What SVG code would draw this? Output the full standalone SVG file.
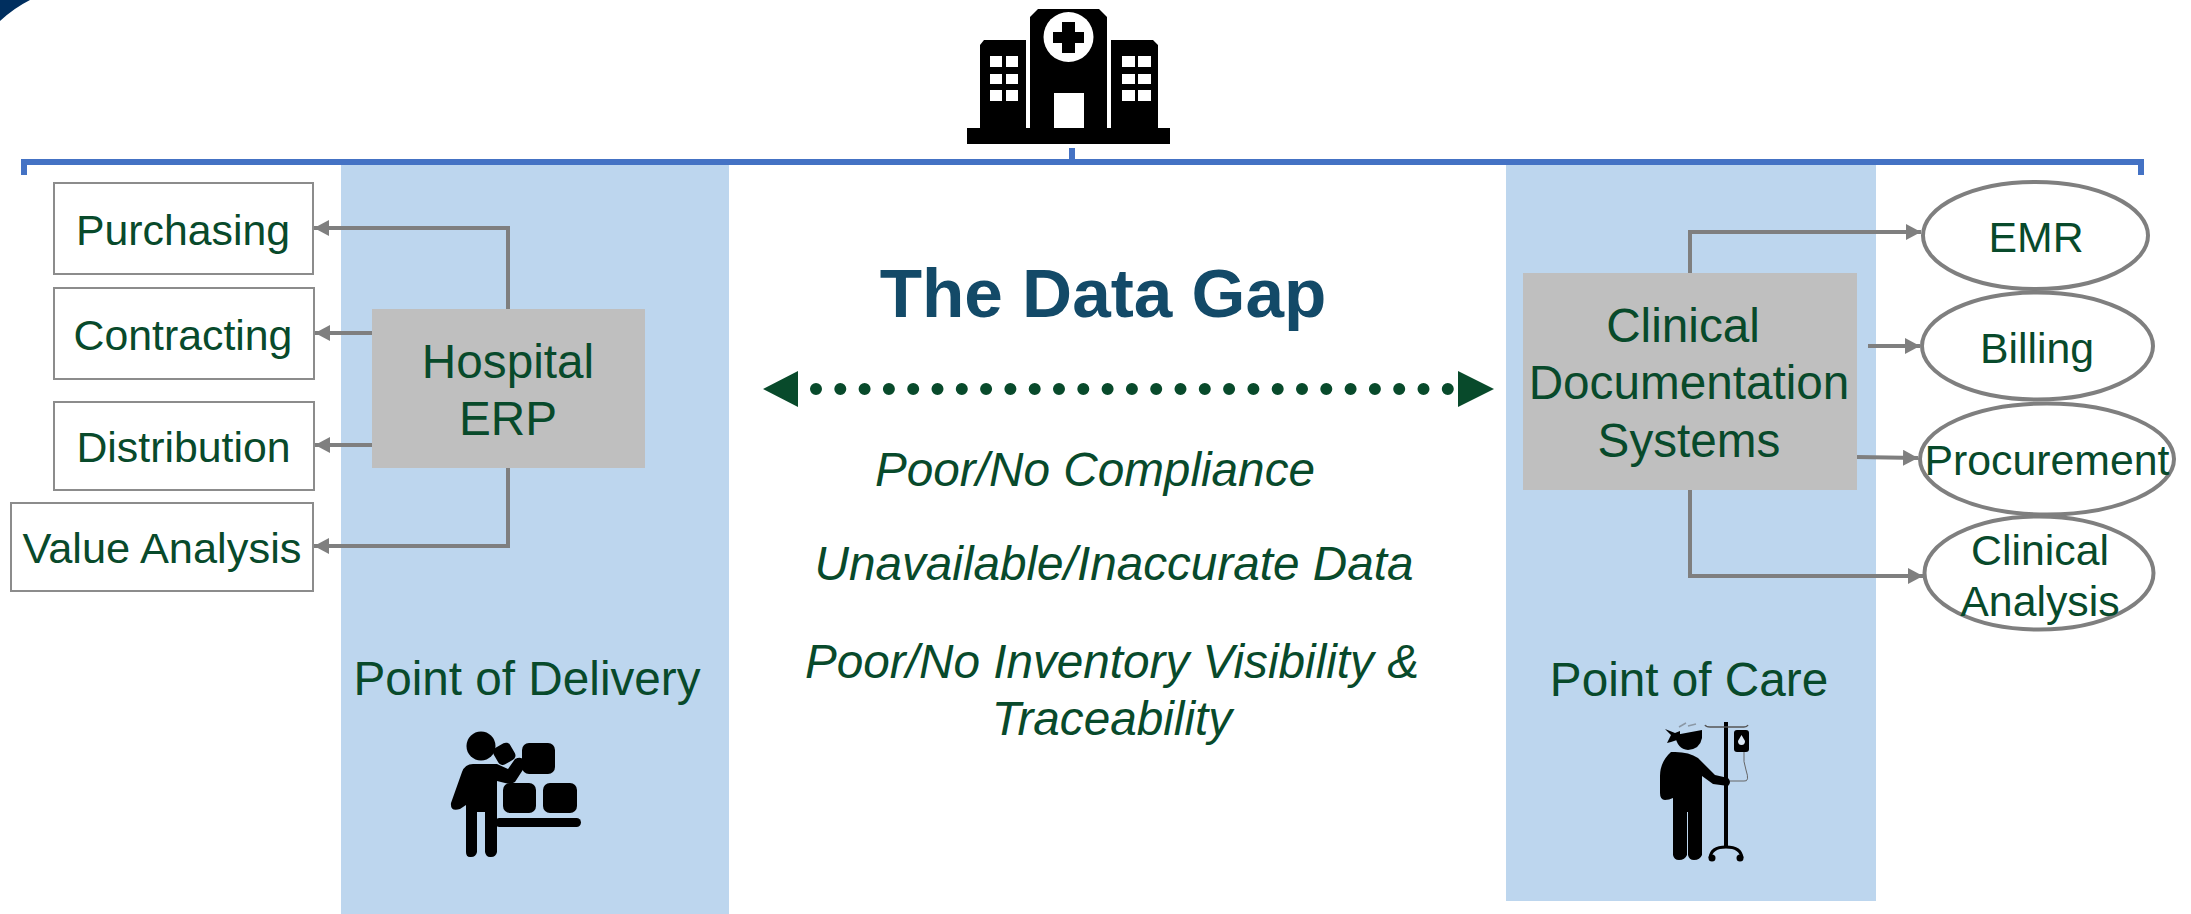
<svg xmlns="http://www.w3.org/2000/svg" width="2191" height="914" viewBox="0 0 2191 914">
<defs>
<marker id="arr" markerUnits="userSpaceOnUse" markerWidth="16" markerHeight="16" refX="15" refY="8" orient="auto"><path d="M0 0L15 8L0 16Z" fill="#7f7f7f"/></marker>
</defs>
<style>
text{font-family:"Liberation Sans",Arial,sans-serif;fill:#084a2b;text-anchor:middle}
.t{font-size:42.800px}
.g{font-size:47.700px}
.i{font-size:47.700px;font-style:italic}
.box{fill:#fff;stroke:#8c8c8c;stroke-width:2}
.el{fill:#fff;stroke:#7f7f7f;stroke-width:4}
.grey{fill:#bfbfbf}
.panel{fill:#bdd6ee}
.c{fill:none;stroke:#7f7f7f;stroke-width:4;marker-end:url(#arr)}
.b{fill:none;stroke:#4472c4;stroke-width:6}
</style>
<rect width="2191" height="914" fill="#fff"/>
<path d="M0 0H30Q14 8 0 21Z" fill="#002f5f"/>
<g id="panels">
<rect class="panel" x="341" y="165" width="388" height="749"/>
<rect class="panel" x="1506" y="165" width="370" height="736"/>
</g>
<g id="bracket">
<path class="b" d="M24 175V162H2141V175"/>
<path class="b" d="M1072 148V162"/>
</g>
<g id="hospital-icon">
<rect x="967" y="128" width="203" height="16" fill="#000"/>
<path d="M980 128V45l4-5H1026V128ZM1111 128V40H1153l5 5V128Z" fill="#000"/>
<path d="M1030 128V17l8-8H1099l8 8V128Z" fill="#000"/>
<circle cx="1068.500" cy="37" r="25" fill="#fff"/>
<path d="M1062 22H1075V32H1084V43H1075V53H1062V43H1053V32H1062Z" fill="#000"/>
<rect x="1054" y="93" width="30" height="35" fill="#fff"/>
<path d="M990 56h12v11h-12zM1006 56h12v11h-12zM990 74h12v10h-12zM1006 74h12v10h-12zM990 90h12v11h-12zM1006 90h12v11h-12zM1122 56h13v11h-13zM1138 56h13v11h-13zM1122 74h13v10h-13zM1138 74h13v10h-13zM1122 90h13v11h-13zM1138 90h13v11h-13z" fill="#fff"/>
</g>
<g id="connectors">
<path class="c" d="M508 309V228H314"/>
<path class="c" d="M372 333H315"/>
<path class="c" d="M372 445H315"/>
<path class="c" d="M508 468V546H314"/>
<path class="c" d="M1690 273V232H1921"/>
<path class="c" d="M1868 346H1920"/>
<path class="c" d="M1857 457L1918 458"/>
<path class="c" d="M1690 490V576H1923"/>
</g>
<g id="purchasing"><rect class="box" x="54" y="183" width="259" height="91"/><text class="t" x="183" y="245">Purchasing</text></g>
<g id="contracting"><rect class="box" x="54" y="288" width="260" height="91"/><text class="t" x="183" y="350">Contracting</text></g>
<g id="distribution"><rect class="box" x="54" y="402" width="260" height="88"/><text class="t" x="183.500" y="462">Distribution</text></g>
<g id="value-analysis"><rect class="box" x="11" y="503" width="302" height="88"/><text class="t" x="162" y="563" style="font-size:43.400px">Value Analysis</text></g>
<g id="hospital-erp"><rect class="grey" x="372" y="309" width="273" height="159"/><text class="g" x="508" y="378">Hospital</text><text class="g" x="508" y="435">ERP</text></g>
<g id="clinical-doc"><rect class="grey" x="1523" y="273" width="334" height="217"/><text class="g" x="1683" y="342">Clinical</text><text class="g" x="1689" y="399">Documentation</text><text class="g" x="1689" y="457">Systems</text></g>
<g id="emr"><ellipse class="el" cx="2035.500" cy="235.500" rx="112.500" ry="53.500"/><text class="t" x="2036" y="252">EMR</text></g>
<g id="billing"><ellipse class="el" cx="2037.500" cy="346" rx="115.500" ry="53.500"/><text class="t" x="2037" y="363">Billing</text></g>
<g id="procurement"><ellipse class="el" cx="2047" cy="459" rx="127" ry="55.500"/><text class="t" x="2047" y="475">Procurement</text></g>
<g id="clinical-analysis"><ellipse class="el" cx="2039" cy="573" rx="114.500" ry="56.500"/><text class="t" x="2040" y="565">Clinical</text><text class="t" x="2040" y="616">Analysis</text></g>
<g id="data-gap">
<text x="1103" y="317" style="font-size:69.300px;font-weight:bold;fill:#134a68">The Data Gap</text>
<path d="M816 389H1456" fill="none" stroke="#084a2b" stroke-width="12" stroke-linecap="round" stroke-dasharray="0 24.300"/>
<path d="M763 389L798 371V407Z M1494 389L1458 371V407Z" fill="#084a2b"/>
<text class="i" x="1095" y="486">Poor/No Compliance</text>
<text class="i" x="1114" y="580">Unavailable/Inaccurate Data</text>
<text class="i" x="1112" y="678">Poor/No Inventory Visibility &amp;</text>
<text class="i" x="1112" y="735">Traceability</text>
</g>
<g id="delivery"><text class="g" x="527" y="695">Point of Delivery</text>
<g id="delivery-icon" fill="#000">
<circle cx="481" cy="746" r="14.500"/>
<rect x="495" y="744" width="19" height="19" rx="5" transform="rotate(-30 505 754)"/>
<rect x="522" y="743" width="33" height="31" rx="7"/>
<rect x="503" y="783" width="33" height="30" rx="7"/>
<rect x="543" y="783" width="34" height="30" rx="7"/>
<rect x="495" y="818" width="86" height="9" rx="4.500"/>
<path d="M473 764H497L508 769L515 759Q524 755 526 765L515 782Q511 785 505 783L497 781V852Q496 857 491 857H490Q486 857 485 852V812H477V852Q476 857 471 857H470Q466 857 466 852V805L460 809Q450 812 451 803L462 772Q465 764 473 764Z"/>
</g></g>
<g id="care"><text class="g" x="1689" y="696">Point of Care</text>
<g id="care-icon" fill="#000">
<path d="M1675 735L1702 730L1702 738Q1700 749 1688 750Q1677 749 1675 735Z"/>
<path d="M1665 729L1675 733L1680 731V739L1671 742L1667 743L1671 735Z"/>
<path d="M1679 727L1686 723M1688 726L1696 724" stroke="#8b98a5" stroke-width="1.500" fill="none"/>
<path d="M1671 752Q1688 751 1698 758Q1708 768 1715 775L1728 778Q1732 782 1728 786L1713 784L1702 776V855Q1700 860 1694 860Q1689 860 1688 855V812H1687V855Q1685 860 1679 860Q1674 860 1673 855V798Q1669 800 1665 800Q1660 800 1660 793V776Q1660 762 1671 752Z"/>
<rect x="1724" y="722" width="4" height="125"/>
<path d="M1726 847Q1711 847 1710 858" fill="none" stroke="#000" stroke-width="3"/>
<path d="M1726 847Q1741 847 1742 858" fill="none" stroke="#000" stroke-width="3"/>
<circle cx="1712" cy="858" r="3.500"/><circle cx="1740" cy="858" r="3.500"/>
<path d="M1705 725Q1706 727 1710 727H1744Q1747 727 1748 725" stroke="#555" stroke-width="1.500" fill="none"/>
<path d="M1737 730h9q3 0 3 3v16q0 3-3 3h-9q-3 0-3-3v-16q0-3 3-3Z"/>
<path d="M1741.500 735l3.500 6q0 4-3.500 4t-3.500-4Z" fill="#dbe8f4"/>
<path d="M1744 752Q1743 762 1746 770Q1750 782 1744 781H1730" fill="none" stroke="#666" stroke-width="1"/>
</g></g>
</svg>
